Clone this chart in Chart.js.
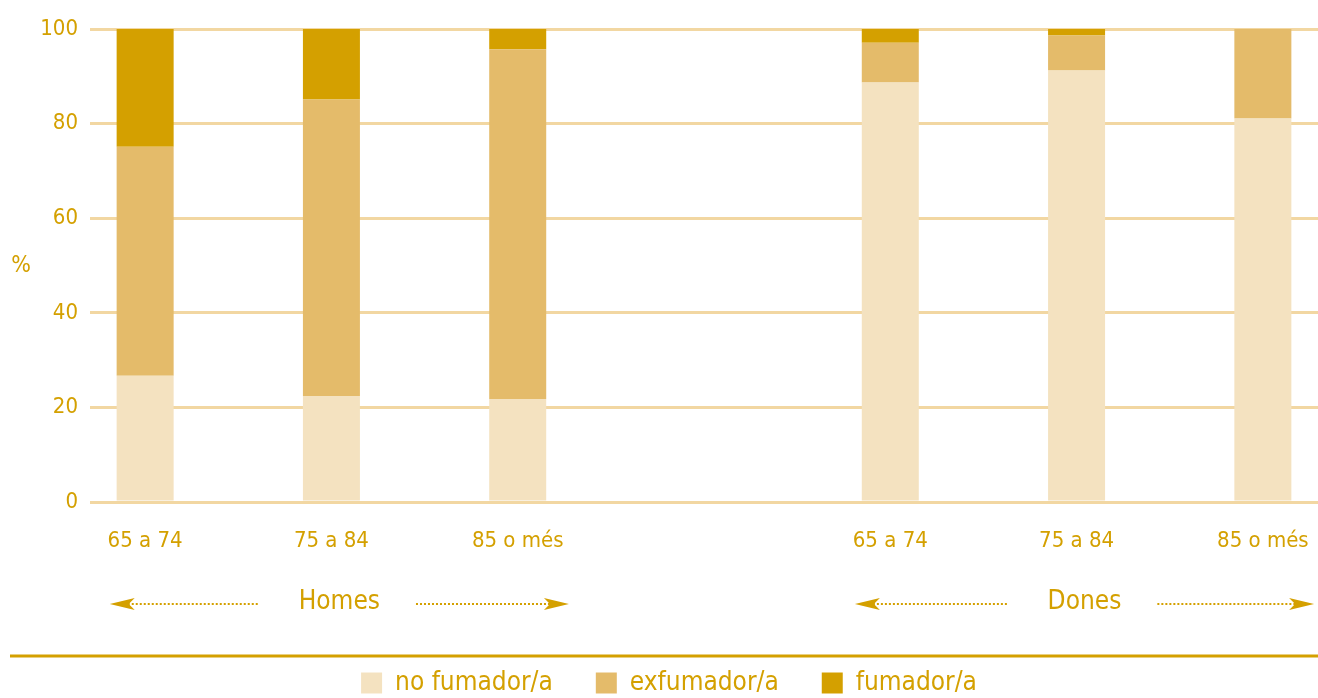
<!DOCTYPE html>
<html>
<head>
<meta charset="utf-8">
<script src="https://cdn.jsdelivr.net/npm/chart.js@4"></script>
<style>
  html, body { margin: 0; padding: 0; background: #fff; }
  #wrap { width: 1318px; height: 698px; }
</style>
</head>
<body>
<div id="wrap"><canvas id="fumChart" width="1318" height="698"></canvas></div>
<script>
// categories
const grups = ['Homes', 'Dones'];
const edats = ['65 a 74', '75 a 84', '85 o més'];
const series = ['no fumador/a', 'exfumador/a', 'fumador/a'];

// values (%), order: Homes 65-74, 75-84, 85+, Dones 65-74, 75-84, 85+
const noFumador = [26.7, 22.4, 21.8, 88.7, 91.2, 81.1];
const exFumador = [48.4, 62.7, 73.9, 8.4, 7.4, 18.9];
const fumador = [24.9, 14.9, 4.3, 2.9, 1.4, 0];

const yTicks = [0, 20, 40, 60, 80, 100];

const colors = ['#F4E2C0', '#E4BB6A', '#D4A000'];
const textColor = '#D4A000';
const gridColor = '#F2D7A2';
const FONT = "'DejaVu Sans Condensed', 'Liberation Sans Narrow', sans-serif";

// posicio de cada barra a l'eix x (un buit entre grups)
const slots = [];
const slotLabels = {};
grups.forEach((g, gi) => {
    edats.forEach((e, ei) => {
        const pos = gi * (edats.length + 1) + ei;
        slots.push(pos);
        slotLabels[pos] = e;
    });
});

function toPoints(arr) {
    return arr.map((v, i) => ({ x: slots[i], y: v }));
}

const values = [noFumador, exFumador, fumador];

// anotacions: rètol de grup amb fletxes puntejades, "%" i línia sobre la llegenda
const decorPlugin = {
    id: 'decor',
    afterLayout(chart) {
        // la llegenda de l'original queda una mica desplaçada a la dreta
        chart.legend.left += 20;
    },
    afterDraw(chart) {
        const ctx = chart.ctx;
        const x = chart.scales.x;
        const area = chart.chartArea;
        const step = x.getPixelForValue(1) - x.getPixelForValue(0);
        const yArrow = area.bottom + 100;

        ctx.save();
        ctx.fillStyle = textColor;
        ctx.strokeStyle = textColor;

        // "%"
        ctx.font = '23px ' + FONT;
        ctx.textAlign = 'center';
        ctx.textBaseline = 'middle';
        ctx.fillText('%', 21, (area.top + area.bottom) / 2 + 1);

        grups.forEach((g, gi) => {
            const first = slots[gi * edats.length];
            const last = slots[gi * edats.length + edats.length - 1];
            const left = x.getPixelForValue(first) - step * 0.19;
            const right = x.getPixelForValue(last) + step * 0.275;
            const center = (left + right) / 2;

            ctx.font = '26px ' + FONT;
            ctx.fillText(g, center, yArrow);

            const tw = ctx.measureText(g).width;
            const innerL = center - tw / 2 - 40;
            const innerR = center + tw / 2 + 36;
            const yl = yArrow + 2;

            // línies puntejades
            ctx.lineWidth = 2;
            ctx.setLineDash([2, 2]);
            ctx.beginPath();
            ctx.moveTo(left + 18, yl);
            ctx.lineTo(innerL, yl);
            ctx.moveTo(innerR, yl);
            ctx.lineTo(right - 18, yl);
            ctx.stroke();
            ctx.setLineDash([]);

            // puntes de fletxa
            const head = (tip, dir) => {
                ctx.beginPath();
                ctx.moveTo(tip, yl);
                ctx.lineTo(tip + dir * 25, yl - 6);
                ctx.lineTo(tip + dir * 19, yl);
                ctx.lineTo(tip + dir * 25, yl + 6);
                ctx.closePath();
                ctx.fill();
            };
            head(left, 1);
            head(right, -1);
        });

        // línia sobre la llegenda
        const legend = chart.legend;
        ctx.lineWidth = 3;
        ctx.beginPath();
        ctx.moveTo(10, legend.top + 29);
        ctx.lineTo(chart.width, legend.top + 29);
        ctx.stroke();
        ctx.restore();
    }
};

new Chart(document.getElementById('fumChart'), {
    type: 'bar',
    data: {
        datasets: series.map((s, i) => ({
            label: s,
            data: toPoints(values[i]),
            backgroundColor: colors[i],
            borderWidth: 0,
            categoryPercentage: 1,
            barPercentage: 0.306
        }))
    },
    options: {
        responsive: false,
        animation: false,
        layout: { padding: { top: 29, right: 0, bottom: 0, left: 0 } },
        plugins: {
            tooltip: { enabled: false },
            legend: {
                position: 'bottom',
                maxHeight: 71,
                labels: {
                    color: textColor,
                    font: { family: FONT, size: 26 },
                    boxWidth: 21,
                    boxHeight: 21,
                    padding: 43
                }
            }
        },
        scales: {
            x: {
                type: 'linear',
                stacked: true,
                offset: false,
                min: -0.296,
                max: slots[slots.length - 1] + 0.296,
                grid: { display: false, drawTicks: false },
                border: { display: false },
                afterBuildTicks: s => { s.ticks = slots.map(v => ({ value: v })); },
                afterFit: s => {
                    s.height = 125;
                    s.paddingLeft = 0;
                    s.paddingRight = 0;
                },
                ticks: {
                    color: textColor,
                    font: { family: FONT, size: 22 },
                    padding: 26,
                    maxRotation: 0,
                    autoSkip: false,
                    callback: v => slotLabels[v] || ''
                }
            },
            y: {
                stacked: true,
                min: 0,
                max: 100,
                afterBuildTicks: s => { s.ticks = yTicks.map(v => ({ value: v })); },
                afterFit: s => { s.width = 90; },
                grid: { color: gridColor, lineWidth: 3, drawTicks: false },
                border: { display: false },
                ticks: {
                    color: textColor,
                    font: { family: FONT, size: 22 },
                    padding: 12
                }
            }
        }
    },
    plugins: [decorPlugin]
});
</script>
</body>
</html>
